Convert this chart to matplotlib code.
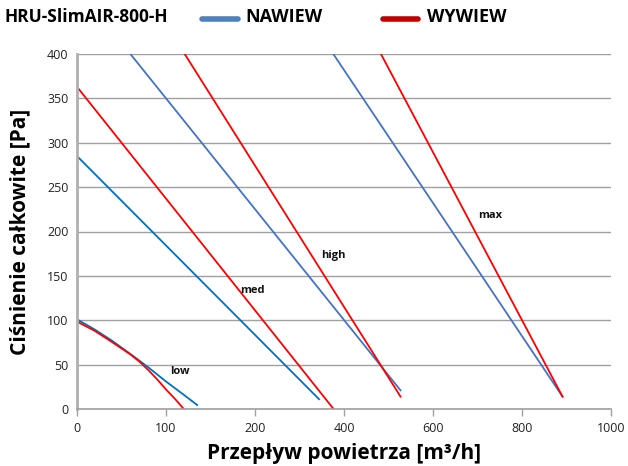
import numpy as np
import matplotlib
matplotlib.use("Agg")
import matplotlib.pyplot as plt
from matplotlib.lines import Line2D

plt.rcParams['font.family'] = ['Open Sans', 'DejaVu Sans']

# ---- data (m3/h, Pa) ----
low_in_x = [0, 20, 40, 60, 80, 100, 120, 135]
low_in_y = [101, 89.5, 76.5, 62, 47, 31, 16, 4.5]
low_out_x = [0, 20, 40, 60, 70, 80, 90, 100, 110, 120]
low_out_y = [98.5, 88, 75, 61.5, 53.5, 44, 33.5, 22, 11.5, 0]
med_in_x = [0, 344]
med_in_y = [285, 11]
med_out_x = [0, 375]
med_out_y = [363, 1]
high_in_x = [60, 527]
high_in_y = [400, 21]
high_out_x = [121, 527]
high_out_y = [400, 14]
max_in_x = [376, 891]
max_in_y = [400, 14]
max_out_x = [483, 891]
max_out_y = [400, 14]

x_ticks = [0, 100, 200, 400, 600, 800, 1000]
y_ticks = [0, 50, 100, 150, 200, 250, 300, 350, 400]

labels = ["low", "med", "high", "max"]
label_pos = [(116, 42), (197, 134), (375, 173), (728, 218)]


def fwd(x):
    x = np.asarray(x, dtype=float)
    return np.where(x <= 200, x, 200 + (x - 200) / 2)


def inv(u):
    u = np.asarray(u, dtype=float)
    return np.where(u <= 200, u, 200 + 2 * (u - 200))


fig = plt.figure(figsize=(6.28, 4.66), dpi=100)
ax = fig.add_axes([77 / 628, 57 / 466, 534 / 628, 355 / 466])
ax.set_xscale('function', functions=(fwd, inv))

dark_blue = '#0070C0'
light_blue = '#4472C4'
red = '#FF0000'
lw = 1.3

ax.plot(low_in_x, low_in_y, color=dark_blue, lw=lw)
ax.plot(low_out_x, low_out_y, color=red, lw=lw)
ax.plot(med_in_x, med_in_y, color=dark_blue, lw=lw)
ax.plot(med_out_x, med_out_y, color=red, lw=lw)
ax.plot(high_in_x, high_in_y, color=light_blue, lw=lw)
ax.plot(high_out_x, high_out_y, color=red, lw=lw)
ax.plot(max_in_x, max_in_y, color=light_blue, lw=lw)
ax.plot(max_out_x, max_out_y, color=red, lw=lw)

for t, (x, y) in zip(labels, label_pos):
    ax.text(x, y, t, fontsize=8, fontweight='bold', ha='center', va='center', color='#111111')

ax.set_xlim(0, 1000)
ax.set_ylim(0, 400)
ax.set_xticks(x_ticks)
ax.set_xticklabels([str(v) for v in x_ticks])
ax.set_yticks(y_ticks)
ax.yaxis.grid(True, color='#A0A0A0', lw=1.0)
ax.set_axisbelow(True)
for s in ['top', 'right']:
    ax.spines[s].set_visible(False)
ax.spines['left'].set_color('#B0B0B0')
ax.spines['left'].set_linewidth(2.0)
ax.spines['bottom'].set_color('#A0A0A0')
ax.spines['bottom'].set_linewidth(1.2)
ax.tick_params(axis='y', length=0, labelsize=9, colors='#222222', pad=6)
ax.tick_params(axis='x', length=5, width=1, color='#A0A0A0', labelsize=9, labelcolor='#222222', pad=4)

ax.set_xlabel('Przepływ powietrza [m³/h]', fontsize=15, fontweight='bold', labelpad=6)
ax.set_ylabel('Ciśnienie całkowite [Pa]', fontsize=15, fontweight='bold', labelpad=12)

fig.text(5 / 628, 1 - 17 / 466, 'HRU-SlimAIR-800-H', fontsize=12.5, fontweight='bold', va='center', ha='left')
fig.add_artist(Line2D([202 / 628, 238 / 628], [1 - 19 / 466, 1 - 19 / 466], color='#4F81BD', lw=4,
                      solid_capstyle='round', transform=fig.transFigure))
fig.text(245 / 628, 1 - 17 / 466, 'NAWIEW', fontsize=13, fontweight='bold', va='center', ha='left')
fig.add_artist(Line2D([383 / 628, 418 / 628], [1 - 19 / 466, 1 - 19 / 466], color='#C00000', lw=4,
                      solid_capstyle='round', transform=fig.transFigure))
fig.text(427 / 628, 1 - 17 / 466, 'WYWIEW', fontsize=13, fontweight='bold', va='center', ha='left')

fig.savefig('out.png', dpi=100)
